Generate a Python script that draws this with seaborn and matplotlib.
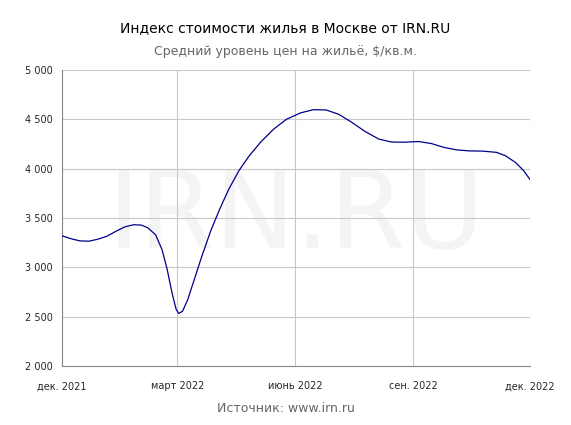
import matplotlib
matplotlib.use("Agg")
import matplotlib.pyplot as plt
import matplotlib.ticker as mticker
import pandas as pd
import seaborn as sns

# values (roughly weekly)
dates = ["2021-12-01", "2021-12-08", "2021-12-15", "2021-12-22", "2021-12-29",
         "2022-01-05", "2022-01-12", "2022-01-19", "2022-01-26", "2022-02-01",
         "2022-02-06", "2022-02-12", "2022-02-17", "2022-02-21", "2022-02-25",
         "2022-02-28", "2022-03-02", "2022-03-05", "2022-03-09", "2022-03-14",
         "2022-03-20", "2022-03-27", "2022-04-03", "2022-04-10", "2022-04-18",
         "2022-04-26", "2022-05-05", "2022-05-15", "2022-05-25", "2022-06-05",
         "2022-06-15", "2022-06-25", "2022-07-05", "2022-07-15", "2022-07-25",
         "2022-08-05", "2022-08-15", "2022-08-25", "2022-09-05", "2022-09-15",
         "2022-09-25", "2022-10-05", "2022-10-15", "2022-10-25", "2022-11-05",
         "2022-11-12", "2022-11-20", "2022-11-26", "2022-12-01"]
prices = [3320, 3290, 3268, 3265, 3285,
          3315, 3365, 3410, 3432, 3428,
          3400, 3330, 3180, 2980, 2730,
          2575, 2532, 2555, 2670, 2870,
          3110, 3370, 3590, 3790, 3980,
          4130, 4270, 4400, 4500, 4565,
          4598, 4595, 4550, 4470, 4380,
          4300, 4270, 4268, 4275, 4255,
          4215, 4190, 4180, 4178, 4165,
          4130, 4060, 3980, 3890]
tick_dates = ["2021-12-01", "2022-03-01", "2022-06-01", "2022-09-01", "2022-12-01"]
tick_labels = ["дек. 2021", "март 2022", "июнь 2022", "сен. 2022", "дек. 2022"]

df = pd.DataFrame({"date": pd.to_datetime(dates), "price": prices})

sns.set_style("white")
plt.rcParams['font.family'] = ['DejaVu Sans']

fig = plt.figure(figsize=(5.71, 4.25), dpi=100)
ax = fig.add_axes([62 / 571, 1 - 366 / 425, 468 / 571, 296 / 425])

ax.text(0.5, 0.5, "IRN.RU", transform=ax.transAxes, ha='center', va='center',
        fontsize=78, color='#f4f4f4', zorder=0)

sns.lineplot(data=df, x="date", y="price", ax=ax, color='#00008b', linewidth=0.9, zorder=3)

ax.set_xlim(pd.Timestamp(tick_dates[0]), pd.Timestamp(tick_dates[-1]))
ax.set_ylim(2000, 5000)
ax.set_xticks(pd.to_datetime(tick_dates))
ax.set_xticklabels(tick_labels)
ax.yaxis.set_major_locator(mticker.MultipleLocator(500))
ax.yaxis.set_major_formatter(mticker.FuncFormatter(lambda v, p: f"{int(v):,}".replace(",", " ")))
ax.grid(True, color='#c8c8c8', linewidth=0.8)
ax.set_axisbelow(True)
for s in ['top', 'right']:
    ax.spines[s].set_visible(False)
for s in ['left', 'bottom']:
    ax.spines[s].set_color('#888888')
ax.tick_params(axis='both', labelsize=7, length=3, color='#888888', direction='out')
ax.tick_params(axis='x', pad=8)
ax.set_xlabel("")
ax.set_ylabel("")

fig.text(0.5, 1 - 28 / 425, "Индекс стоимости жилья в Москве от IRN.RU",
         ha='center', va='center', fontsize=10, color='#000000')
fig.text(0.5, 1 - 51 / 425, "Средний уровень цен на жильё, $/кв.м.",
         ha='center', va='center', fontsize=9, color='#666666')
fig.text(0.5, 1 - 409 / 425, "Источник: www.irn.ru",
         ha='center', va='center', fontsize=9, color='#666666')

fig.savefig("out.png", dpi=100)
